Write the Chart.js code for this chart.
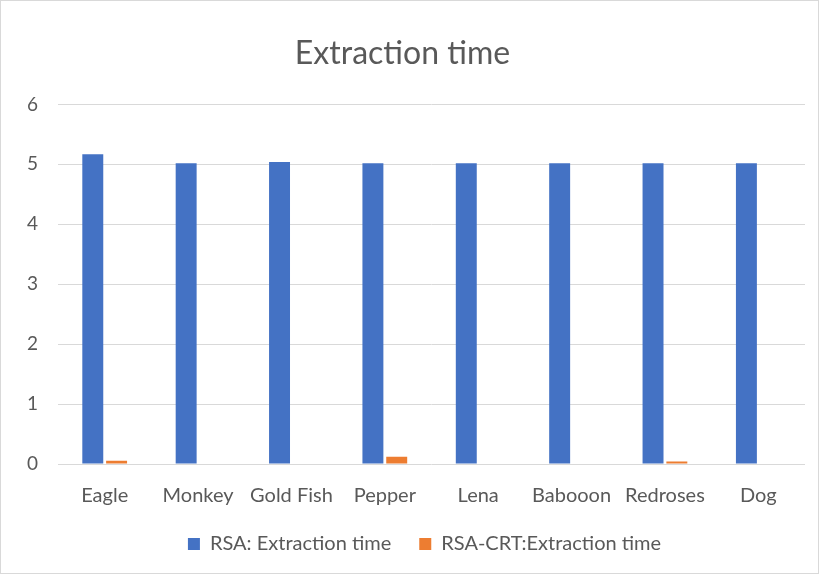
<!DOCTYPE html>
<html>
<head>
<meta charset="utf-8">
<script src="https://cdn.jsdelivr.net/npm/chart.js@4/dist/chart.umd.min.js"></script>
<style>
  html,body{margin:0;padding:0;background:#fff}
  #wrap{width:820px;height:575px;position:relative}
</style>
</head>
<body>
<div id="wrap"><canvas id="c" width="820" height="575"></canvas></div>
<script>
const labels = ['Eagle','Monkey','Gold Fish','Pepper','Lena','Babooon','Redroses','Dog']
const rsa    = [5.17,5.02,5.04,5.02,5.02,5.02,5.02,5.02]
const rsaCrt = [0.055,0,0,0.12,0,0,0.04,0]
const yTicks = [0,1,2,3,4,5,6]

const TXT = '#595959', GRID = '#d9d9d9', FONT = 'Lato, "Open Sans", sans-serif'

const frame = {
  id:'frame',
  afterLayout(chart){
    // excel places the legend a bit right of centre
    if (chart.legend) { chart.legend.left += 22; chart.legend.right += 22 }
  },
  afterDraw(chart){
    const ctx = chart.ctx
    ctx.save()
    ctx.strokeStyle = GRID; ctx.lineWidth = 1
    ctx.strokeRect(0.5,0.5,818,573)
    ctx.restore()
  }
}

new Chart(document.getElementById('c'),{
  type:'bar',
  data:{
    labels,
    datasets:[
      { label:'RSA: Extraction time', data:rsa, backgroundColor:'#4472C4', categoryPercentage:0.51, barPercentage:0.88 },
      { label:'RSA-CRT:Extraction time', data:rsaCrt, backgroundColor:'#ED7D31', categoryPercentage:0.51, barPercentage:0.88 }
    ]
  },
  options:{
    responsive:false, animation:false,
    layout:{ padding:{ left:0, right:15, top:0, bottom:11 } },
    plugins:{
      title:{ display:true, text:'Extraction time', color:TXT, font:{family:FONT,size:32,weight:'normal'}, padding:{top:34,bottom:32} },
      legend:{ position:'bottom', labels:{ color:TXT, font:{family:FONT,size:20}, boxWidth:12, boxHeight:12, padding:28 } },
      tooltip:{ enabled:false }
    },
    scales:{
      x:{ grid:{display:false}, border:{display:false},
        ticks:{ color:TXT, font:{family:FONT,size:20}, padding:12 },
        afterFit:s=>{ s.height = 42 } },
      y:{ min:0, max:6, grid:{color:GRID, drawTicks:false}, border:{display:false},
        afterBuildTicks:s=>{ s.ticks = yTicks.map(v=>({value:v})) },
        ticks:{ color:TXT, font:{family:FONT,size:19}, padding:20 },
        afterFit:s=>{ s.width = 58 } }
    }
  },
  plugins:[frame]
})
</script>
</body>
</html>
